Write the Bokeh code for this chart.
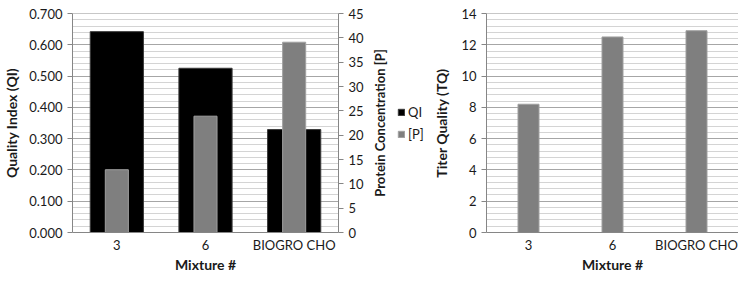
from bokeh.plotting import figure
from bokeh.layouts import row
from bokeh.models import (Range1d, LinearAxis, SingleIntervalTicker, NumeralTickFormatter,
                          Legend, LegendItem, FactorRange, ColumnDataSource, FixedTicker)
from bokeh.embed import file_html
from bokeh.resources import INLINE

mixtures = ["3", "6", "BIOGRO CHO"]
qi = [0.642, 0.525, 0.329]
protein = [12.9, 23.9, 39.1]
tq = [8.2, 12.5, 12.9]

FONT = "Lato"
TXT = "#1a1a1a"
AX = "#868686"
MAJ = "#a6a6a6"
MIN = "#d4d4d4"
H = 275
BT, BB = 8, 0


def style(p):
    p.outline_line_color = None
    p.xgrid.grid_line_color = None
    p.ygrid.grid_line_color = MAJ
    p.ygrid.minor_grid_line_color = MIN
    for ax in p.axis:
        ax.axis_line_color = AX
        ax.major_tick_line_color = AX
        ax.minor_tick_line_color = None
        ax.major_tick_in = 0
        ax.major_tick_out = 5
        ax.major_label_text_font = FONT
        ax.major_label_text_font_size = "13px"
        ax.major_label_text_color = TXT
        ax.axis_label_text_font = FONT
        ax.axis_label_text_font_size = "14px"
        ax.axis_label_text_font_style = "bold"
        ax.axis_label_text_color = TXT
    p.xaxis.major_tick_line_color = None
    p.xaxis.major_tick_out = 0
    p.xaxis.major_label_standoff = 4
    p.xaxis.axis_label_standoff = 0
    p.xaxis.axis_label = "Mixture #"


# ---- left chart ----
p1 = figure(x_range=FactorRange(*mixtures), y_range=Range1d(0, 0.70001), width=368, height=H,
            output_backend="svg", toolbar_location=None, title=None,
            min_border_left=62, min_border_right=30, min_border_top=BT, min_border_bottom=BB)
p1.extra_y_ranges = {"p": Range1d(0, 45.0001)}
p1.vbar(x=mixtures, top=qi, width=0.6, fill_color="#000000", line_color="#3a3a3a")
p1.vbar(x=mixtures, top=protein, width=0.26, y_range_name="p",
        fill_color="#7f7f7f", line_color="#a0a0a0")
p1.yaxis.ticker = SingleIntervalTicker(interval=0.1, num_minor_ticks=5)
p1.yaxis.formatter = NumeralTickFormatter(format="0.000")
p1.yaxis.axis_label = "Quality Index (QI)"
p1.yaxis.axis_label_standoff = 6
rax = LinearAxis(y_range_name="p", ticker=SingleIntervalTicker(interval=5, num_minor_ticks=0))
p1.add_layout(rax, "right")
style(p1)

# ---- legend strip with the secondary-axis title ----
pl = figure(width=62, height=H, output_backend="svg", toolbar_location=None, title=None,
            min_border_left=0, min_border_right=0, min_border_top=BT, min_border_bottom=36,
            x_range=Range1d(0, 1), y_range=Range1d(0, 1))
pl.outline_line_color = None
pl.grid.grid_line_color = None
pl.xaxis.visible = False
pl.yaxis.ticker = FixedTicker(ticks=[])
pl.yaxis.axis_label = "Protein Concentration [P]"
pl.yaxis.axis_label_text_font = FONT
pl.yaxis.axis_label_text_font_size = "13px"
pl.yaxis.axis_label_text_font_style = "bold"
pl.yaxis.axis_label_text_color = TXT
pl.yaxis.axis_label_standoff = 0
pl.yaxis.major_label_standoff = 0
pl.yaxis.major_tick_line_color = None
pl.yaxis.minor_tick_line_color = None
pl.yaxis.axis_line_color = None
nan = float("nan")
placeholder = ColumnDataSource(data=dict(x=[nan], top=[nan]))
d_qi = pl.vbar(x="x", top="top", width=0.5, source=placeholder,
               fill_color="#000000", line_color="#3a3a3a")
d_p = pl.vbar(x="x", top="top", width=0.5, source=placeholder,
              fill_color="#7f7f7f", line_color="#a0a0a0")
legend = Legend(items=[LegendItem(label="QI", renderers=[d_qi]),
                       LegendItem(label="[P]", renderers=[d_p])],
                location=(10, 90), border_line_color=None, background_fill_alpha=0,
                glyph_width=8, glyph_height=8, label_text_font=FONT, label_text_font_size="13px",
                label_text_color=TXT, spacing=6, padding=0, margin=0, label_standoff=3)
pl.add_layout(legend)

# ---- right chart ----
p2 = figure(x_range=FactorRange(*mixtures), y_range=Range1d(0, 14.0001), width=308, height=H,
            output_backend="svg", toolbar_location=None, title=None,
            min_border_left=50, min_border_right=0, min_border_top=13, min_border_bottom=BB)
p2.vbar(x=mixtures, top=tq, width=0.25, fill_color="#7f7f7f", line_color="#a0a0a0")
p2.yaxis.ticker = SingleIntervalTicker(interval=2, num_minor_ticks=5)
p2.yaxis.axis_label = "Titer Quality (TQ)"
p2.yaxis.axis_label_standoff = 8
style(p2)

layout = row(p1, pl, p2)
open("out.html", "w").write(file_html(layout, INLINE))
